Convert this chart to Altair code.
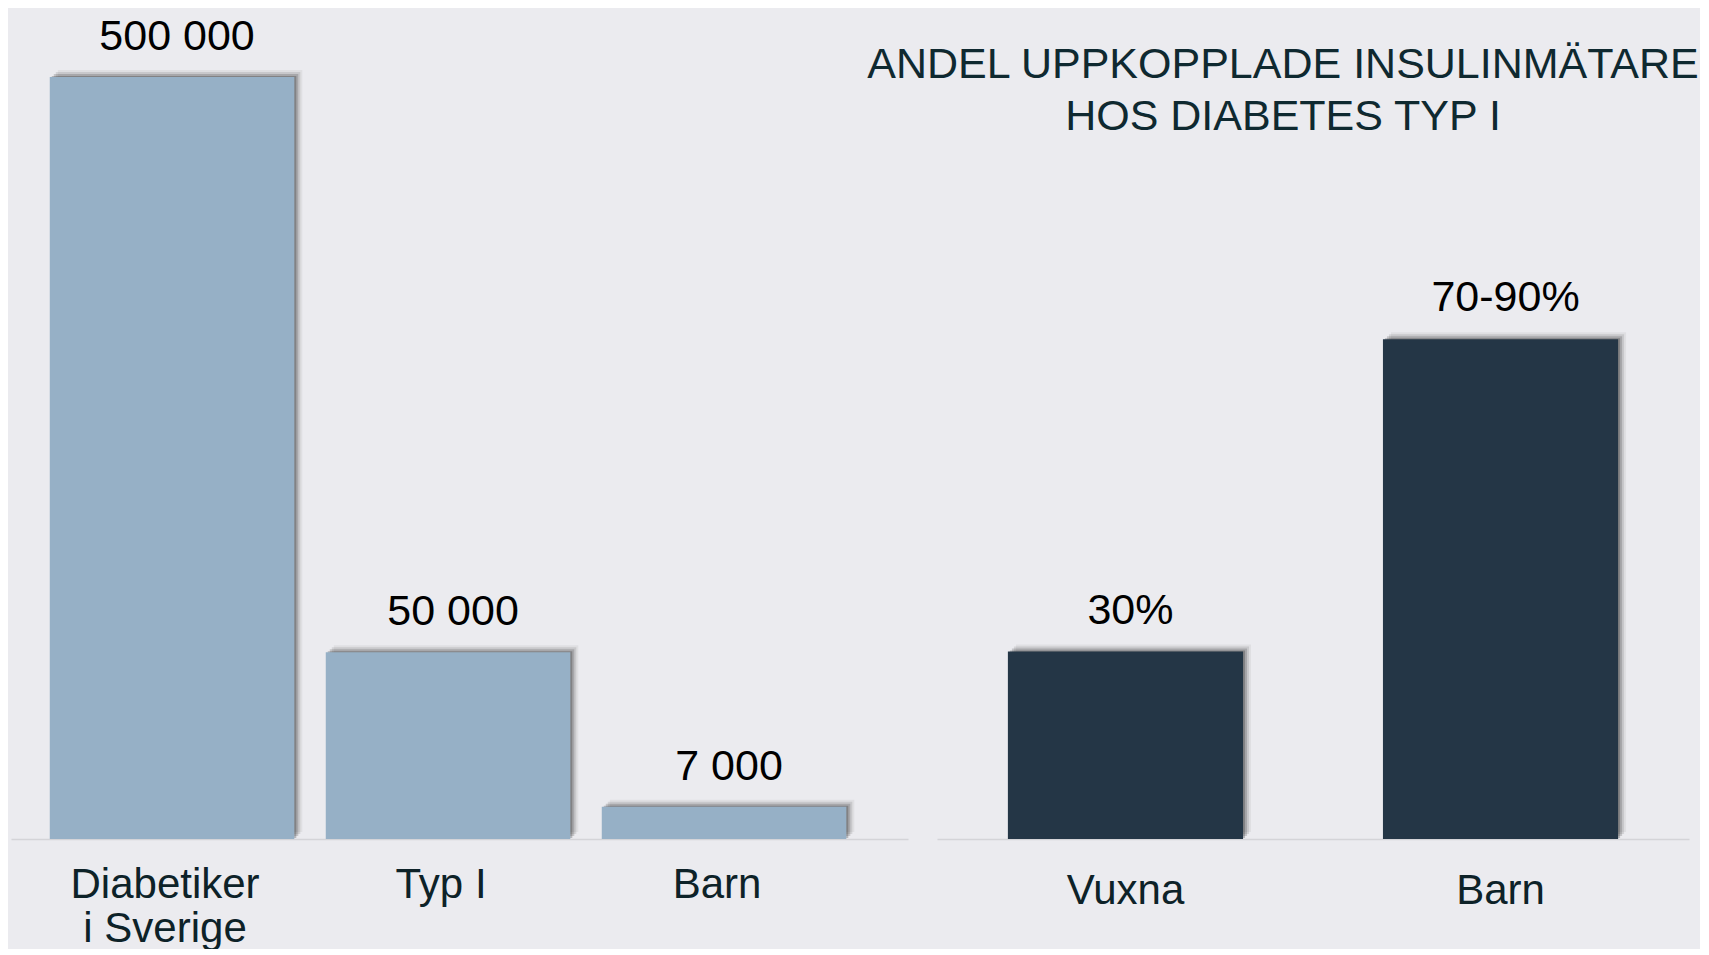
import altair as alt
import pandas as pd

# ---- data ----
left_categories = ["Diabetiker i Sverige", "Typ I", "Barn"]
left_values = [500000, 50000, 7000]
left_labels = ["500 000", "50 000", "7 000"]

right_categories = ["Vuxna", "Barn"]
right_values = [30, 80]          # "70-90%" drawn at its midpoint
right_labels = ["30%", "70-90%"]

title_lines = ["ANDEL UPPKOPPLADE INSULINMÄTARE", "HOS DIABETES TYP I"]

# ---- styling ----
FONT = "Liberation Sans"
BG = "#ebebef"
LEFT_COLOR = "#96b0c6"
RIGHT_COLOR = "#243646"
PLOT_H = 831

left_df = pd.DataFrame({"kategori": left_categories, "antal": left_values, "etikett": left_labels})
right_df = pd.DataFrame({"kategori": right_categories, "andel": right_values, "etikett": right_labels})

shadow_specs = [(8, -7, 0.05), (6, -5, 0.10), (4, -3, 0.16), (2, -1, 0.22)]


def panel(df, yfield, xscale, yscale, color, label_pad, label_offset, label_expr, dy):
    x = alt.X("kategori:N", sort=None, scale=xscale,
              axis=alt.Axis(title=None, labelAngle=0, ticks=False, grid=False,
                            labelPadding=label_pad, labelOffset=label_offset,
                            labelExpr=label_expr, labelLimit=0,
                            domainColor="#d4d4d8", domainWidth=1.5,
                            labelFont=FONT, labelFontSize=42, labelColor="#0d2228",
                            labelLineHeight=44))
    y = alt.Y(f"{yfield}:Q", scale=yscale, axis=None)
    base = alt.Chart(df).encode(x=x, y=y)
    layers = []
    for dx, dyo, op in shadow_specs:
        layers.append(base.mark_bar(color="#000000", opacity=op, xOffset=dx, yOffset=dyo))
    layers.append(base.mark_bar(color=color))
    layers.append(base.mark_text(baseline="alphabetic", dy=dy, dx=5, font=FONT,
                                 fontSize=43, color="#000000").encode(text="etikett:N"))
    return layers


left = alt.layer(*panel(
    left_df, "antal",
    alt.Scale(domain=left_categories, paddingInner=0.114, paddingOuter=0.182, align=0.386),
    alt.Scale(type="symlog", constant=80000, domain=[0, 614000], nice=False),
    LEFT_COLOR, 25, -7,
    "datum.label == 'Diabetiker i Sverige' ? ['Diabetiker', 'i Sverige'] : datum.label",
    -27,
)).properties(width=897, height=PLOT_H)

right_layers = panel(
    right_df, "andel",
    alt.Scale(domain=right_categories, paddingInner=0.373, paddingOuter=0.189),
    alt.Scale(domain=[0, 133], nice=False, zero=True),
    RIGHT_COLOR, 31, 0, "datum.label", -28,
)
title_layer = alt.Chart(pd.DataFrame({"t": [0]})).mark_text(
    text=title_lines, font=FONT, fontSize=43, color="#0f2930", align="center",
    baseline="alphabetic", lineHeight=52,
).encode(x=alt.value(346), y=alt.value(70))

right = alt.layer(*right_layers, title_layer).properties(width=752, height=PLOT_H)

chart = alt.hconcat(left, right, spacing=29, bounds="flush").properties(
    padding={"left": 3, "top": 0, "right": 0, "bottom": 0},
    background=BG,
).configure_view(stroke=None)

chart.save("out.html", embed_options={"renderer": "svg", "actions": False})
